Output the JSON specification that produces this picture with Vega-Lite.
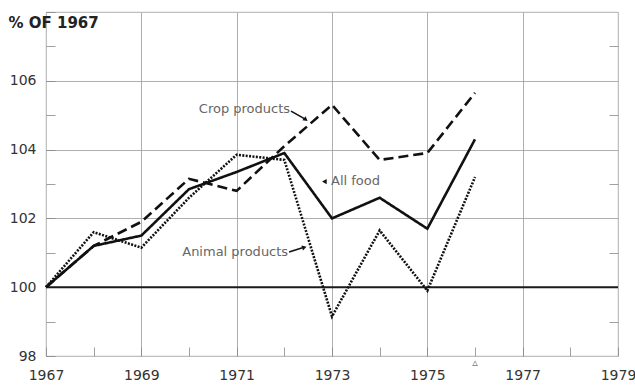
{
  "$schema": "https://vega.github.io/schema/vega-lite/v6.json",
  "width": 572,
  "height": 344,
  "autosize": {"type": "none"},
  "padding": {"left": 46, "top": 12, "right": 17, "bottom": 29},
  "background": "white",
  "config": {
    "view": {"stroke": "#9a9a9a", "strokeWidth": 0.8},
    "font": "DejaVu Sans"
  },
  "datasets": {
    "series": [
      {"year": 1967, "value": 100.0, "series": "All food"},
      {"year": 1968, "value": 101.2, "series": "All food"},
      {"year": 1969, "value": 101.5, "series": "All food"},
      {"year": 1970, "value": 102.85, "series": "All food"},
      {"year": 1971, "value": 103.35, "series": "All food"},
      {"year": 1972, "value": 103.9, "series": "All food"},
      {"year": 1973, "value": 102.0, "series": "All food"},
      {"year": 1974, "value": 102.6, "series": "All food"},
      {"year": 1975, "value": 101.7, "series": "All food"},
      {"year": 1976, "value": 104.3, "series": "All food"},
      {"year": 1967, "value": 100.0, "series": "Crop products"},
      {"year": 1968, "value": 101.2, "series": "Crop products"},
      {"year": 1969, "value": 101.9, "series": "Crop products"},
      {"year": 1970, "value": 103.15, "series": "Crop products"},
      {"year": 1971, "value": 102.8, "series": "Crop products"},
      {"year": 1972, "value": 104.1, "series": "Crop products"},
      {"year": 1973, "value": 105.3, "series": "Crop products"},
      {"year": 1974, "value": 103.7, "series": "Crop products"},
      {"year": 1975, "value": 103.9, "series": "Crop products"},
      {"year": 1976, "value": 105.65, "series": "Crop products"},
      {"year": 1967, "value": 100.0, "series": "Animal products"},
      {"year": 1968, "value": 101.6, "series": "Animal products"},
      {"year": 1969, "value": 101.15, "series": "Animal products"},
      {"year": 1970, "value": 102.6, "series": "Animal products"},
      {"year": 1971, "value": 103.85, "series": "Animal products"},
      {"year": 1972, "value": 103.7, "series": "Animal products"},
      {"year": 1973, "value": 99.15, "series": "Animal products"},
      {"year": 1974, "value": 101.65, "series": "Animal products"},
      {"year": 1975, "value": 99.9, "series": "Animal products"},
      {"year": 1976, "value": 103.2, "series": "Animal products"}
    ],
    "labelsRight": [
      {"year": 1972.12, "value": 105.18, "label": "Crop products"},
      {"year": 1972.08, "value": 101.02, "label": "Animal products"}
    ],
    "labelsLeft": [
      {"year": 1972.98, "value": 103.09, "label": "All food"}
    ],
    "arrows": [
      {"year": 1972.14, "value": 105.12, "year2": 1972.42, "value2": 104.9},
      {"year": 1972.1, "value": 101.02, "year2": 1972.38, "value2": 101.15}
    ],
    "heads": [
      {"year": 1972.45, "value": 104.87, "angle": 38},
      {"year": 1972.42, "value": 101.16, "angle": 343},
      {"year": 1972.84, "value": 103.07, "angle": 180}
    ],
    "mark": [
      {"year": 1976, "value": 97.8, "label": "▵"}
    ]
  },
  "layer": [
    {
      "data": {"values": [{"value": 100}]},
      "mark": {"type": "rule", "color": "#1a1a1a", "strokeWidth": 2},
      "encoding": {
        "y": {
          "field": "value",
          "type": "quantitative",
          "scale": {"domain": [98, 108], "nice": false, "zero": false},
          "axis": {
            "orient": "left",
            "title": "% OF 1967",
            "titleAngle": 0,
            "titleAlign": "left",
            "titleBaseline": "alphabetic",
            "titleX": -38,
            "titleY": 15,
            "titleFontSize": 15,
            "titleFontWeight": "bold",
            "titleColor": "#222",
            "values": [98, 99, 100, 101, 102, 103, 104, 105, 106, 107, 108],
            "labelExpr": "(datum.value % 2 == 0 && datum.value < 108) ? datum.value : ''",
            "labelFontSize": 14,
            "labelColor": "#333",
            "labelPadding": 19,
            "domain": false,
            "tickSize": -9,
            "tickColor": "#888",
            "tickWidth": 0.8,
            "grid": true,
            "gridColor": "#9a9a9a",
            "gridWidth": 0.8,
            "gridOpacity": {"condition": {"test": "datum.value % 2 == 1 || datum.value == 100 || datum.value == 98 || datum.value == 108", "value": 0}, "value": 1}
          }
        }
      }
    },
    {
      "data": {"values": [{"value": 100}]},
      "mark": {"type": "rule", "opacity": 0},
      "encoding": {
        "y": {
          "field": "value",
          "type": "quantitative",
          "axis": {
            "orient": "right",
            "title": null,
            "values": [99, 101, 103, 105, 107],
            "labels": false,
            "domain": false,
            "grid": false,
            "tickSize": -9,
            "tickColor": "#888",
            "tickWidth": 0.8
          }
        }
      }
    },
    {
      "data": {"name": "series"},
      "mark": {"type": "line", "color": "#111", "strokeCap": "butt", "strokeJoin": "miter"},
      "encoding": {
        "x": {
          "field": "year",
          "type": "quantitative",
          "scale": {"domain": [1967, 1979], "nice": false, "zero": false},
          "axis": {
            "title": null,
            "values": [1967, 1968, 1969, 1970, 1971, 1972, 1973, 1974, 1975, 1976, 1977, 1978, 1979],
            "format": "d",
            "labelExpr": "datum.value % 2 == 1 ? datum.label : ''",
            "labelFontSize": 14,
            "labelColor": "#333",
            "labelPadding": 21,
            "labelFlush": false,
            "labelOverlap": false,
            "domain": false,
            "tickSize": -9,
            "tickColor": "#888",
            "tickWidth": 0.8,
            "grid": true,
            "gridColor": "#9a9a9a",
            "gridWidth": 0.8,
            "gridOpacity": {"condition": {"test": "datum.value % 2 == 0 || datum.value == 1967 || datum.value == 1979", "value": 0}, "value": 1}
          }
        },
        "y": {"field": "value", "type": "quantitative", "axis": null},
        "detail": {"field": "series"},
        "strokeDash": {
          "field": "series",
          "type": "nominal",
          "scale": {"domain": ["All food", "Crop products", "Animal products"], "range": [[1, 0], [10, 5], [2, 1.4]]},
          "legend": null
        },
        "strokeWidth": {
          "field": "series",
          "type": "nominal",
          "scale": {"domain": ["All food", "Crop products", "Animal products"], "range": [2.6, 2.6, 3.2]},
          "legend": null
        }
      }
    },
    {
      "data": {"name": "labelsRight"},
      "mark": {"type": "text", "align": "right", "baseline": "middle", "fontSize": 13, "color": "#666"},
      "encoding": {
        "x": {"field": "year", "type": "quantitative", "axis": null},
        "y": {"field": "value", "type": "quantitative", "axis": null},
        "text": {"field": "label"}
      }
    },
    {
      "data": {"name": "labelsLeft"},
      "mark": {"type": "text", "align": "left", "baseline": "middle", "fontSize": 13, "color": "#666"},
      "encoding": {
        "x": {"field": "year", "type": "quantitative", "axis": null},
        "y": {"field": "value", "type": "quantitative", "axis": null},
        "text": {"field": "label"}
      }
    },
    {
      "data": {"name": "arrows"},
      "mark": {"type": "rule", "color": "#111", "strokeWidth": 1.6},
      "encoding": {
        "x": {"field": "year", "type": "quantitative", "axis": null},
        "y": {"field": "value", "type": "quantitative", "axis": null},
        "x2": {"field": "year2"},
        "y2": {"field": "value2"}
      }
    },
    {
      "data": {"name": "heads"},
      "mark": {"type": "point", "shape": "triangle-right", "filled": true, "color": "#111", "size": 28, "opacity": 1},
      "encoding": {
        "x": {"field": "year", "type": "quantitative", "axis": null},
        "y": {"field": "value", "type": "quantitative", "axis": null},
        "angle": {"field": "angle", "type": "quantitative", "scale": null}
      }
    },
    {
      "data": {"name": "mark"},
      "mark": {"type": "text", "align": "center", "baseline": "middle", "fontSize": 11, "color": "#777"},
      "encoding": {
        "x": {"field": "year", "type": "quantitative", "axis": null},
        "y": {"field": "value", "type": "quantitative", "axis": null},
        "text": {"field": "label"}
      }
    }
  ],
  "resolve": {"axis": {"x": "independent", "y": "independent"}}
}
